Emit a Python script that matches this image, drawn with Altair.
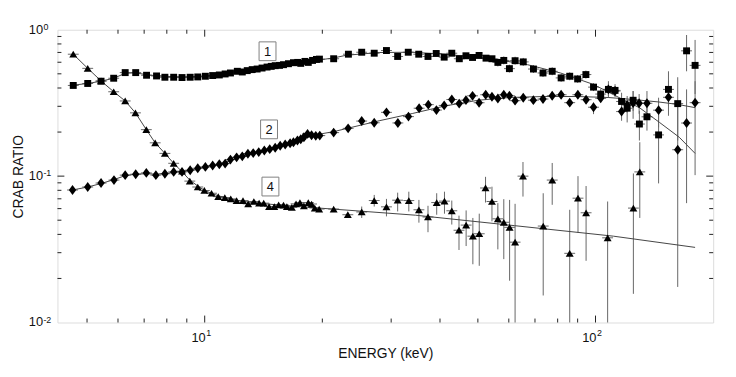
import altair as alt
import pandas as pd

# ---------------- data ----------------
sq_E = [4.61, 5.02, 5.43, 5.85, 6.26, 6.66, 7.10, 7.53, 7.91, 8.33,
        8.75, 9.18, 9.60, 10.04, 10.48, 10.90, 11.28, 11.64, 12.12, 12.48,
        12.85, 13.23, 13.62, 14.02, 14.44, 14.80, 15.15, 15.54, 15.91, 16.38,
        16.87, 17.30, 17.61, 18.05, 18.41, 18.88, 19.32, 19.66, 21.38, 23.32,
        25.22, 27.15, 29.18, 31.17, 33.18, 35.29, 37.27, 39.12, 41.00, 42.88,
        44.82, 46.61, 48.46, 50.36, 52.46, 54.33, 56.25, 58.25, 60.21, 62.26,
        65.33, 69.37, 73.39, 77.48, 81.66, 85.90, 90.01, 94.49, 98.83, 103.1,
        107.9, 112.2, 116.6, 120.5, 124.8, 129.5, 135.4, 145.0, 153.7, 162.3,
        171.0, 179.8]
sq_R = [0.4165, 0.4296, 0.4453, 0.4665, 0.5097, 0.5097, 0.4889, 0.4836, 0.4738, 0.4738,
        0.4716, 0.4738, 0.4761, 0.4813, 0.4866, 0.4911, 0.4989, 0.5067, 0.5203, 0.5147,
        0.5259, 0.5342, 0.5392, 0.5476, 0.5562, 0.5623, 0.5684, 0.5711, 0.5773, 0.5863,
        0.5957, 0.5984, 0.5893, 0.6079, 0.5984, 0.6174, 0.6272, 0.6301, 0.6339, 0.6808,
        0.7023, 0.6915, 0.7213, 0.6570, 0.7023, 0.6808, 0.6570, 0.6885, 0.6500, 0.6915,
        0.6339, 0.6643, 0.6468, 0.6675, 0.6398, 0.6339, 0.5984, 0.6174, 0.5426, 0.6146,
        0.6033, 0.5392, 0.5067, 0.5203, 0.4689, 0.4813, 0.4614, 0.4942, 0.4056, 0.3637,
        0.3914, 0.3853, 0.3237, 0.2911, 0.3299, 0.2270, 0.2543, 0.1913, 0.3914, 0.3129,
        0.7180, 0.5711]
sq_err = {56: (0.562, 0.637), 57: (0.580, 0.657), 58: (0.510, 0.577), 59: (0.578, 0.654),
          60: (0.567, 0.642), 61: (0.507, 0.574), 62: (0.476, 0.539), 63: (0.489, 0.554),
          64: (0.441, 0.499), 65: (0.452, 0.512), 66: (0.434, 0.491), 67: (0.464, 0.526),
          68: (0.3813, 0.4316), 69: (0.3365, 0.3932), 70: (0.3434, 0.4453), 71: (0.3471, 0.4250),
          72: (0.2792, 0.3713), 73: (0.2327, 0.3263), 74: (0.2792, 0.3813), 75: (0.1751, 0.2792),
          76: (0.2046, 0.3113), 77: (0.0892, 0.2652), 78: (0.3018, 0.5203), 79: (0.1751, 0.4738),
          80: (0.5203, 0.9208), 81: (0.3637, 0.8519)}

di_E = [4.59, 5.02, 5.43, 5.86, 6.26, 6.66, 7.09, 7.50, 7.91, 8.33,
        8.75, 9.18, 9.60, 10.04, 10.48, 10.90, 11.28, 11.64, 12.07, 12.48,
        12.90, 13.31, 13.75, 14.21, 14.67, 15.15, 15.60, 16.07, 16.54, 16.87,
        17.27, 17.61, 17.94, 18.33, 18.77, 19.24, 19.70, 21.38, 23.28, 25.22,
        27.15, 29.18, 31.21, 33.22, 35.37, 37.34, 39.17, 41.00, 42.88, 44.79,
        46.61, 48.46, 50.36, 52.36, 54.33, 56.25, 58.25, 60.21, 62.26, 65.33,
        69.34, 73.39, 77.48, 81.66, 85.90, 90.12, 94.60, 98.83, 103.1, 107.9,
        112.2, 116.6, 120.5, 124.8, 129.3, 135.4, 145.0, 153.7, 162.3, 171.0,
        179.8]
di_R = [0.0804, 0.0843, 0.0897, 0.0940, 0.1016, 0.1031, 0.1052, 0.1016, 0.1039, 0.1069,
        0.1069, 0.1098, 0.1132, 0.1156, 0.1181, 0.1205, 0.1218, 0.1297, 0.1344, 0.1365,
        0.1423, 0.1437, 0.1459, 0.1498, 0.1529, 0.1563, 0.1612, 0.1645, 0.1679, 0.1705,
        0.1751, 0.1786, 0.1843, 0.1943, 0.1901, 0.1884, 0.1892, 0.1983, 0.2120, 0.2378,
        0.2316, 0.2728, 0.2309, 0.2551, 0.2911, 0.3080, 0.2827, 0.3042, 0.3340, 0.3129,
        0.3304, 0.3537, 0.3173, 0.3598, 0.3488, 0.3392, 0.3598, 0.3542, 0.3278, 0.3434,
        0.3304, 0.3365, 0.3542, 0.3598, 0.3177, 0.3598, 0.3329, 0.2957, 0.3402, 0.3914,
        0.3813, 0.2762, 0.3066, 0.3162, 0.3147, 0.3147, 0.2823, 0.3456, 0.1515, 0.2306,
        0.3177]
di_err = {58: (0.308, 0.349), 59: (0.323, 0.365), 60: (0.311, 0.352), 61: (0.316, 0.358),
          62: (0.333, 0.377), 63: (0.338, 0.383), 64: (0.299, 0.338), 65: (0.338, 0.383),
          66: (0.313, 0.354), 67: (0.2652, 0.3177), 68: (0.320, 0.362), 69: (0.3526, 0.4250),
          70: (0.3526, 0.4120), 71: (0.2389, 0.3177), 72: (0.2719, 0.3526), 73: (0.2465, 0.3813),
          74: (0.2665, 0.3637), 75: (0.2719, 0.3813), 76: (0.2153, 0.3434), 77: (0.2584, 0.4453),
          78: (0.0175, 0.3263), 79: (0.0654, 0.3914), 80: (0.1016, 0.4453)}

tr_E = [4.61, 5.02, 5.43, 5.85, 6.26, 6.65, 7.09, 7.47, 7.91, 8.33,
        8.75, 9.16, 9.60, 9.98, 10.41, 10.83, 11.26, 11.66, 12.07, 12.53,
        12.92, 13.36, 13.78, 14.16, 14.61, 15.07, 15.46, 15.91, 16.23, 16.71,
        17.13, 17.53, 17.94, 18.41, 18.77, 19.13, 19.63, 21.38, 23.24, 25.22,
        27.15, 29.18, 31.17, 33.29, 35.33, 37.27, 39.23, 41.07, 42.88, 44.74,
        46.66, 48.55, 50.41, 52.31, 54.33, 56.25, 58.25, 60.28, 62.26, 65.22,
        73.48, 77.48, 85.90, 90.19, 94.60, 107.4, 125.0, 129.8]
tr_R = [0.6808, 0.5451, 0.4474, 0.3771, 0.3263, 0.2706, 0.2078, 0.1689, 0.1430, 0.1224,
        0.1081, 0.0925, 0.0843, 0.0798, 0.0764, 0.0725, 0.0714, 0.0699, 0.0681, 0.0681,
        0.0647, 0.0671, 0.0654, 0.0654, 0.0620, 0.0620, 0.0637, 0.0634, 0.0620, 0.0612,
        0.0647, 0.0660, 0.0627, 0.0660, 0.0644, 0.0605, 0.0596, 0.0596, 0.0545, 0.0569,
        0.0681, 0.0617, 0.0685, 0.0681, 0.0589, 0.0526, 0.0660, 0.0675, 0.0580, 0.0427,
        0.0463, 0.0389, 0.0404, 0.0830, 0.0671, 0.0511, 0.0484, 0.0447, 0.0354, 0.1000,
        0.0456, 0.0940, 0.0297, 0.0707, 0.0562, 0.0379, 0.0605, 0.1069]
tr_err = {39: (0.0518, 0.0620), 40: (0.0620, 0.0744), 41: (0.0531, 0.0699), 42: (0.0574, 0.0771),
          43: (0.0574, 0.0783), 44: (0.0481, 0.0688), 45: (0.0414, 0.0627), 46: (0.0545, 0.0764),
          47: (0.0554, 0.0783), 48: (0.0467, 0.0681), 49: (0.0313, 0.0537), 50: (0.0333, 0.0583),
          51: (0.0250, 0.0518), 52: (0.0244, 0.0554), 53: (0.0660, 0.0989), 54: (0.0491, 0.0847),
          55: (0.0316, 0.0654), 56: (0.0271, 0.0696), 57: (0.0193, 0.0688), 58: (0.0100, 0.0647),
          59: (0.0725, 0.1249), 60: (0.0153, 0.0764), 61: (0.0637, 0.1230), 62: (0.0100, 0.0589),
          63: (0.0410, 0.1000), 64: (0.0264, 0.0856), 65: (0.0100, 0.0671), 66: (0.0157, 0.1043),
          67: (0.0518, 0.1705)}

m1_E = [4.61, 5.02, 5.43, 5.85, 6.26, 6.66, 7.10, 7.53, 8.33, 9.18, 10.04, 10.90, 11.64,
        12.85, 14.44, 16.38, 18.41, 19.66, 21.38, 23.01, 27.95, 33.96, 41.24, 50.07, 58.49,
        66.99, 81.38, 98.83, 115.5, 129.8, 145.8, 163.8, 179.8]
m1_R = [0.4184, 0.4296, 0.4453, 0.4665, 0.5043, 0.5083, 0.4927, 0.4851, 0.4776, 0.4776,
        0.4829, 0.4927, 0.5043, 0.5244, 0.5536, 0.5846, 0.6079, 0.6223, 0.6419, 0.6695,
        0.6993, 0.7023, 0.6808, 0.6468, 0.6126, 0.5773, 0.5067, 0.4230, 0.3418, 0.2925,
        0.2327, 0.1843, 0.1430]
m2_E = [4.59, 5.02, 5.43, 5.86, 6.26, 6.66, 7.09, 7.50, 7.91, 8.33, 9.18, 10.04, 10.90,
        11.64, 12.90, 14.21, 15.60, 17.27, 18.33, 19.70, 21.38, 23.28, 27.95, 33.96, 41.24,
        50.07, 60.21, 73.39, 90.01, 107.9, 124.8, 145.0, 162.3, 179.8]
m2_R = [0.0804, 0.0843, 0.0890, 0.0947, 0.1008, 0.1031, 0.1039, 0.1031, 0.1039, 0.1064,
        0.1098, 0.1159, 0.1205, 0.1273, 0.1408, 0.1498, 0.1595, 0.1738, 0.1863, 0.1937,
        0.2014, 0.2127, 0.2389, 0.2677, 0.3018, 0.3299, 0.3445, 0.3499, 0.3499, 0.3445,
        0.3340, 0.3212, 0.3090, 0.2938]
m4_E = [4.61, 5.02, 5.43, 5.85, 6.26, 6.65, 7.09, 7.47, 7.91, 8.33, 8.75, 9.16, 9.60,
        10.00, 10.41, 10.85, 11.64, 12.48, 13.78, 15.30, 17.20, 19.66, 34.61, 61.99, 111.1, 179.8]
m4_R = [0.6808, 0.5451, 0.4474, 0.3771, 0.3263, 0.2706, 0.2078, 0.1689, 0.1430, 0.1224,
        0.1072, 0.0940, 0.0856, 0.0798, 0.0762, 0.0733, 0.0699, 0.0673, 0.0652, 0.0637,
        0.0622, 0.0605, 0.0541, 0.0459, 0.0389, 0.0326]

box_text = ["1", "2", "4"]
box_E = [14.48, 14.61, 14.73]
box_R = [0.713, 0.2087, 0.0849]

x_major = [10, 100]
x_minor = [5, 6, 7, 8, 9, 20, 30, 40, 50, 60, 70, 80, 90]
y_major = [0.1]
y_minor = [0.02, 0.03, 0.04, 0.05, 0.06, 0.07, 0.08, 0.09,
           0.2, 0.3, 0.4, 0.5, 0.6, 0.7, 0.8, 0.9]

x_label_vals = [10, 100]
x_label_exp = ["1", "2"]
y_label_vals = [1, 0.1, 0.01]
y_label_exp = ["0", "-1", "-2"]

# ---------------- chart ----------------
W, H = 663, 296
FONT = "Liberation Sans"
INK = "#111111"
ERR = "#666666"

xs = alt.Scale(type="log", domain=[4.2, 200], nice=False)
ys = alt.Scale(type="log", domain=[0.01, 1], nice=False)

xaxis = alt.Axis(values=x_major, labels=False, ticks=False, domain=False, grid=False,
                 title="ENERGY (keV)", titleFont=FONT, titleFontSize=14,
                 titleFontWeight="normal", titleColor=INK, titleX=W / 2, titleY=35,
                 titleBaseline="alphabetic", titleAlign="center")
yaxis = alt.Axis(values=[0.01, 0.1, 1], labels=False, ticks=False, domain=False, grid=False,
                 title="CRAB RATIO", titleFont=FONT, titleFontSize=14,
                 titleFontWeight="normal", titleColor=INK, titleX=-35, titleY=H / 2,
                 titleAngle=270, titleBaseline="alphabetic", titleAlign="center")


def X(f):
    return alt.X(f, type="quantitative", scale=xs, axis=xaxis)


def Y(f):
    return alt.Y(f, type="quantitative", scale=ys, axis=yaxis)


def points_df(E, R):
    return pd.DataFrame({"E": E[:len(R)], "R": R[:len(E)]})


def err_df(E, R, err):
    rows = []
    for i, (lo, hi) in err.items():
        if i < len(E):
            rows.append({"E": E[i], "lo": lo, "hi": hi})
    return pd.DataFrame(rows)


layers = []

# inward tick marks on all four sides
for vals, L in ((x_minor, 4), (x_major, 7)):
    d = pd.DataFrame({"v": vals})
    layers.append(alt.Chart(d).mark_rule(color="#222", strokeWidth=1).encode(
        x=X("v"), y=alt.value(H), y2=alt.value(H - L)))
    layers.append(alt.Chart(d).mark_rule(color="#222", strokeWidth=1).encode(
        x=X("v"), y=alt.value(0), y2=alt.value(L)))
for vals, L in ((y_minor, 4), (y_major, 7)):
    d = pd.DataFrame({"v": vals})
    layers.append(alt.Chart(d).mark_rule(color="#222", strokeWidth=1).encode(
        y=Y("v"), x=alt.value(0), x2=alt.value(L)))
    layers.append(alt.Chart(d).mark_rule(color="#222", strokeWidth=1).encode(
        y=Y("v"), x=alt.value(W), x2=alt.value(W - L)))

# tick labels: "10" with a raised exponent
xl = pd.DataFrame({"v": x_label_vals, "b": ["10"] * len(x_label_vals), "s": x_label_exp})
layers.append(alt.Chart(xl).mark_text(font=FONT, fontSize=13, color=INK, align="right",
                                      baseline="middle", dx=1).encode(
    x=X("v"), y=alt.value(H + 16), text="b:N"))
layers.append(alt.Chart(xl).mark_text(font=FONT, fontSize=9, color=INK, align="left",
                                      baseline="alphabetic", dx=1.5).encode(
    x=X("v"), y=alt.value(H + 14), text="s:N"))
yl = pd.DataFrame({"v": y_label_vals, "b": ["10"] * len(y_label_vals), "s": y_label_exp})
layers.append(alt.Chart(yl).mark_text(font=FONT, fontSize=13, color=INK, align="left",
                                      baseline="middle").encode(
    x=alt.value(-29), y=Y("v"), text="b:N"))
layers.append(alt.Chart(yl).mark_text(font=FONT, fontSize=9, color=INK, align="left",
                                      baseline="alphabetic").encode(
    x=alt.value(-14.2), y=Y("v"), text="s:N"))

# vertical error bars
for E, R, err in ((sq_E, sq_R, sq_err), (di_E, di_R, di_err), (tr_E, tr_R, tr_err)):
    layers.append(alt.Chart(err_df(E, R, err)).mark_rule(color=ERR, strokeWidth=1).encode(
        x=X("E"), y=Y("lo"), y2="hi"))

# horizontal error bars (bin widths)
for E, R in ((sq_E, sq_R), (di_E, di_R), (tr_E, tr_R)):
    layers.append(alt.Chart(points_df(E, R)).mark_tick(
        orient="horizontal", size=11, thickness=1, color=ERR, opacity=1).encode(
        x=X("E"), y=Y("R")))

# model curves
for E, R in ((m1_E, m1_R), (m2_E, m2_R), (m4_E, m4_R)):
    layers.append(alt.Chart(points_df(E, R)).mark_line(
        color="#444", strokeWidth=1, clip=True).encode(x=X("E"), y=Y("R")))

# data markers
layers.append(alt.Chart(points_df(sq_E, sq_R)).mark_point(
    shape="square", size=49, filled=True, color="black", opacity=1, strokeWidth=0).encode(
    x=X("E"), y=Y("R")))
layers.append(alt.Chart(points_df(di_E, di_R)).mark_point(
    shape="M0,-1L0.75,0L0,1L-0.75,0Z", size=100, filled=True, color="black",
    opacity=1, strokeWidth=0).encode(x=X("E"), y=Y("R")))
layers.append(alt.Chart(points_df(tr_E, tr_R)).mark_point(
    shape="M0,-0.85L1,0.85L-1,0.85Z", size=64, filled=True, color="black",
    opacity=1, strokeWidth=0).encode(x=X("E"), y=Y("R")))

# boxed labels
bdf = pd.DataFrame({"E": box_E, "R": box_R, "t": box_text})
layers.append(alt.Chart(bdf).mark_point(
    shape="M-0.9,-1H0.9V1H-0.9Z", size=361, filled=True, fill="white",
    stroke="#808080", strokeWidth=1, opacity=1).encode(x=X("E"), y=Y("R")))
layers.append(alt.Chart(bdf).mark_text(
    font=FONT, fontSize=13, color=INK, baseline="middle", align="center", dy=1).encode(
    x=X("E"), y=Y("R"), text="t:N"))

chart = alt.layer(*layers).properties(
    width=W, height=H,
    autosize=alt.AutoSizeParams(type="none"),
    padding={"left": 50, "top": 20, "right": 15, "bottom": 45},
).configure_view(stroke="#222", strokeWidth=1.2).configure(background="white")

chart.save("out.html", embed_options={"renderer": "svg", "actions": False})
